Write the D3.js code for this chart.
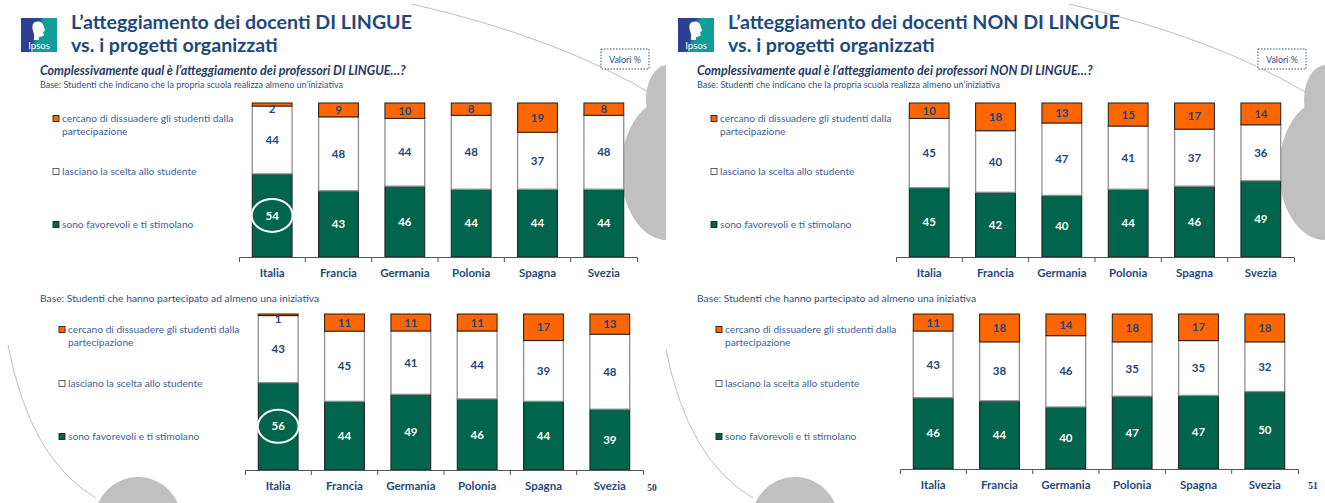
<!DOCTYPE html>
<html>
<head>
<meta charset="utf-8">
<script src="https://cdn.jsdelivr.net/npm/d3@7"></script>
<style>
  body { margin: 0; background: #fff; }
  svg { display: block; font-family: Lato, "Open Sans", sans-serif; }
</style>
</head>
<body>
<svg width="1325" height="503"></svg>
<script>
const countries = ['Italia', 'Francia', 'Germania', 'Polonia', 'Spagna', 'Svezia'];
const keys = ['fav', 'lib', 'diss'];
const legendLabels = [
  ['cercano di dissuadere gli studenti dalla', 'partecipazione'],
  ['lasciano la scelta allo studente'],
  ['sono favorevoli e ti stimolano']
];

// docenti DI LINGUE - base: la scuola realizza almeno un'iniziativa
const lingueScuolaFav = [54, 43, 46, 44, 44, 44];
const lingueScuolaLib = [44, 48, 44, 48, 37, 48];
const lingueScuolaDiss = [2, 9, 10, 8, 19, 8];
// docenti DI LINGUE - base: hanno partecipato
const linguePartFav = [56, 44, 49, 46, 44, 39];
const linguePartLib = [43, 45, 41, 44, 39, 48];
const linguePartDiss = [1, 11, 11, 11, 17, 13];
// docenti NON DI LINGUE - base: la scuola realizza almeno un'iniziativa
const nonLingueScuolaFav = [45, 42, 40, 44, 46, 49];
const nonLingueScuolaLib = [45, 40, 47, 41, 37, 36];
const nonLingueScuolaDiss = [10, 18, 13, 15, 17, 14];
// docenti NON DI LINGUE - base: hanno partecipato
const nonLinguePartFav = [46, 44, 40, 47, 47, 50];
const nonLinguePartLib = [43, 38, 46, 35, 35, 32];
const nonLinguePartDiss = [11, 18, 14, 18, 17, 18];

const baseScuola = 'Base:  Studenti che indicano che la propria scuola realizza almeno un\u2019iniziativa';
const basePart = 'Base:  Studenti che hanno partecipato ad almeno una iniziativa';

const colors = {fav: '#00654a', lib: '#ffffff', diss: '#ff6600'};
const strokes = {fav: '#1c1c1c', lib: '#8f8f8f', diss: '#1c1c1c'};
const navy = '#1f497d';
const legendBlue = '#3e5f96';

var svg = d3.select('svg');

function rows(fav, lib, diss) {
  return countries.map((c, i) => ({country: c, fav: fav[i], lib: lib[i], diss: diss[i]}));
}

// decorazioni grigie del modello di slide
const deco = svg.append('g');
const clipL = svg.append('clipPath').attr('id', 'clipL');
clipL.append('rect').attr('x', 0).attr('y', 0).attr('width', 666).attr('height', 503);
const clipR = svg.append('clipPath').attr('id', 'clipR');
clipR.append('rect').attr('x', 666).attr('y', 0).attr('width', 659).attr('height', 503);

function decorate(off, clip, edge) {
  const g = deco.append('g').attr('clip-path', `url(#${clip})`);
  g.append('path').attr('d', `M${412 + off},4 Q${560 + off},38 ${655 + off},96`)
    .attr('fill', 'none').attr('stroke', '#bdbdbd').attr('stroke-width', 1);
  g.append('path').attr('d', `M${8 + off},345 Q${30 + off},460 ${96 + off},498`)
    .attr('fill', 'none').attr('stroke', '#bdbdbd').attr('stroke-width', 1);
  g.append('ellipse').attr('cx', edge).attr('cy', 100).attr('rx', 21).attr('ry', 35).attr('fill', '#c0c0c0');
  g.append('ellipse').attr('cx', edge).attr('cy', 170).attr('rx', 46).attr('ry', 70).attr('fill', '#c0c0c0');
  g.append('ellipse').attr('cx', 138 + off).attr('cy', 522).attr('rx', 44).attr('ry', 45).attr('fill', '#c0c0c0');
}
decorate(0, 'clipL', 667);
decorate(657, 'clipR', 1325);

const defs = svg.append('defs');
const grad = defs.append('linearGradient').attr('id', 'ipsos').attr('x1', 0).attr('x2', 1).attr('y1', 0).attr('y2', 0.3);
grad.append('stop').attr('offset', '0.45').attr('stop-color', '#2c3f95');
grad.append('stop').attr('offset', '0.6').attr('stop-color', '#129e98');

function header(off, title1, subtitle) {
  const g = svg.append('g').attr('transform', `translate(${off},0)`);
  // logo
  g.append('rect').attr('x', 21).attr('y', 18).attr('width', 36).attr('height', 34).attr('fill', 'url(#ipsos)');
  g.append('path').attr('d', 'M35,22 q7,-2 9,5 l1,4 l-2,1 l1,3 q-2,2 -5,2 l0,3 l-5,0 q1,-5 -1,-9 q-2,-7 2,-9 z').attr('fill', '#fff');
  g.append('text').attr('x', 39).attr('y', 49).attr('text-anchor', 'middle')
    .attr('fill', '#fff').attr('font-size', 9.5).text('Ipsos');

  g.append('text').attr('x', 71).attr('y', 29).attr('fill', navy)
    .attr('font-size', 19.6).attr('font-weight', 700).text(title1);
  g.append('text').attr('x', 71).attr('y', 52).attr('fill', navy)
    .attr('font-size', 19.6).attr('font-weight', 700).text('vs. i progetti organizzati');

  g.append('text').attr('x', 40).attr('y', 75).attr('fill', '#1f3864')
    .attr('font-size', 12.5).attr('font-weight', 700).attr('font-style', 'italic').text(subtitle);
  g.append('text').attr('x', 40).attr('y', 88).attr('fill', '#35507f')
    .attr('font-size', 9).text(baseScuola);
  g.append('text').attr('x', 40).attr('y', 302).attr('fill', '#35507f')
    .attr('font-size', 10.3).text(basePart);

  g.append('rect').attr('x', 601).attr('y', 49).attr('width', 48).attr('height', 20)
    .attr('fill', '#fff').attr('stroke', '#2f4f7f').attr('stroke-width', 1).attr('stroke-dasharray', '1.5,1.5');
  g.append('text').attr('x', 625).attr('y', 63).attr('text-anchor', 'middle')
    .attr('fill', '#2f4f7f').attr('font-size', 9).text('Valori %');
}

function drawChart(cfg) {
  const data = rows(cfg.fav, cfg.lib, cfg.diss);
  const stack = d3.stack().keys(keys).offset(d3.stackOffsetExpand)(data);

  const x = d3.scaleBand().domain(countries).range([cfg.x0, cfg.x1])
    .paddingInner(0.4).paddingOuter(0.2);
  const y = d3.scaleLinear().domain([0, 1]).range([cfg.base, cfg.top]);

  const g = svg.append('g');

  const layers = g.selectAll('g.layer').data(stack).enter().append('g').attr('class', 'layer');
  layers.selectAll('rect').data(d => d.map(v => Object.assign(v, {key: d.key})))
    .enter().append('rect')
    .attr('x', d => x(d.data.country))
    .attr('y', d => y(d[1]))
    .attr('width', x.bandwidth())
    .attr('height', d => y(d[0]) - y(d[1]))
    .attr('fill', d => colors[d.key])
    .attr('stroke', d => strokes[d.key])
    .attr('stroke-width', d => d.key == 'lib' ? 1.3 : 1);

  layers.selectAll('text').data(d => d)
    .enter().append('text')
    .attr('x', d => x(d.data.country) + x.bandwidth() / 2)
    .attr('y', d => {
      const h = y(d[0]) - y(d[1]);
      return h < 8 ? y(d[0]) + 3 : (y(d[0]) + y(d[1])) / 2;
    })
    .attr('dy', '0.36em')
    .attr('text-anchor', 'middle')
    .attr('font-size', 11.5).attr('font-weight', 700)
    .attr('fill', d => d.key == 'fav' ? '#fff' : '#24457d')
    .text(d => d.data[d.key]);

  if (cfg.circle) {
    const it = stack[0][0];
    g.append('ellipse')
      .attr('cx', x('Italia') + x.bandwidth() / 2)
      .attr('cy', (y(it[0]) + y(it[1])) / 2)
      .attr('rx', x.bandwidth() / 2 + 0.5).attr('ry', 16.5)
      .attr('fill', 'none').attr('stroke', '#fff').attr('stroke-width', 2);
  }

  const axis = g.append('g').attr('transform', `translate(0,${cfg.base})`)
    .call(d3.axisBottom(x).tickSizeInner(0).tickSizeOuter(5).tickPadding(cfg.labelPad));
  axis.select('.domain').attr('stroke', '#555');
  axis.selectAll('text').attr('font-family', 'Lato, sans-serif')
    .attr('font-size', 11.5).attr('font-weight', 700).attr('fill', navy);
  axis.selectAll('line.bound').data(countries.slice(1)).enter().append('line')
    .attr('class', 'bound')
    .attr('x1', d => x(d) - x.step() * x.paddingInner() / 2)
    .attr('x2', d => x(d) - x.step() * x.paddingInner() / 2)
    .attr('y1', 0).attr('y2', 5).attr('stroke', '#555');

  // legenda
  const lg = g.append('g');
  const order = ['diss', 'lib', 'fav'];
  order.forEach((k, i) => {
    const yy = cfg.legendY[i];
    lg.append('rect').attr('x', cfg.legendX).attr('y', yy - 6.5).attr('width', 6).attr('height', 6)
      .attr('fill', colors[k]).attr('stroke', k == 'lib' ? '#555' : '#222').attr('stroke-width', 0.9);
    legendLabels[i].forEach((line, j) => {
      lg.append('text').attr('x', cfg.legendX + 9).attr('y', yy + j * 12.5)
        .attr('font-size', 10.2).attr('fill', legendBlue).text(line);
    });
  });
}

header(0, 'L\u2019atteggiamento dei docenti DI LINGUE',
  'Complessivamente qual \u00e8 l\u2019atteggiamento dei professori DI LINGUE\u2026?');
header(657, 'L\u2019atteggiamento dei docenti NON DI LINGUE',
  'Complessivamente qual \u00e8 l\u2019atteggiamento dei professori NON DI LINGUE\u2026?');

drawChart({fav: lingueScuolaFav, lib: lingueScuolaLib, diss: lingueScuolaDiss,
  x0: 239, x1: 637, base: 257, top: 103, labelPad: 12, circle: true,
  legendX: 53, legendY: [122, 175, 228]});
drawChart({fav: linguePartFav, lib: linguePartLib, diss: linguePartDiss,
  x0: 245, x1: 643, base: 470, top: 314, labelPad: 12, circle: true,
  legendX: 59, legendY: [333, 387, 440]});
drawChart({fav: nonLingueScuolaFav, lib: nonLingueScuolaLib, diss: nonLingueScuolaDiss,
  x0: 896, x1: 1294, base: 257, top: 103, labelPad: 12, circle: false,
  legendX: 711, legendY: [122, 175, 228]});
drawChart({fav: nonLinguePartFav, lib: nonLinguePartLib, diss: nonLinguePartDiss,
  x0: 900, x1: 1298, base: 469, top: 314, labelPad: 12, circle: false,
  legendX: 716, legendY: [333, 387, 440]});

svg.append('text').attr('x', 652).attr('y', 491).attr('text-anchor', 'middle')
  .attr('font-family', '"Liberation Serif", serif').attr('font-weight', 700)
  .attr('font-size', 9.5).attr('fill', '#1f3864').text('50');
svg.append('text').attr('x', 1313).attr('y', 489).attr('text-anchor', 'middle')
  .attr('font-family', '"Liberation Serif", serif').attr('font-weight', 700)
  .attr('font-size', 9.5).attr('fill', '#1f3864').text('51');
</script>
</body>
</html>
